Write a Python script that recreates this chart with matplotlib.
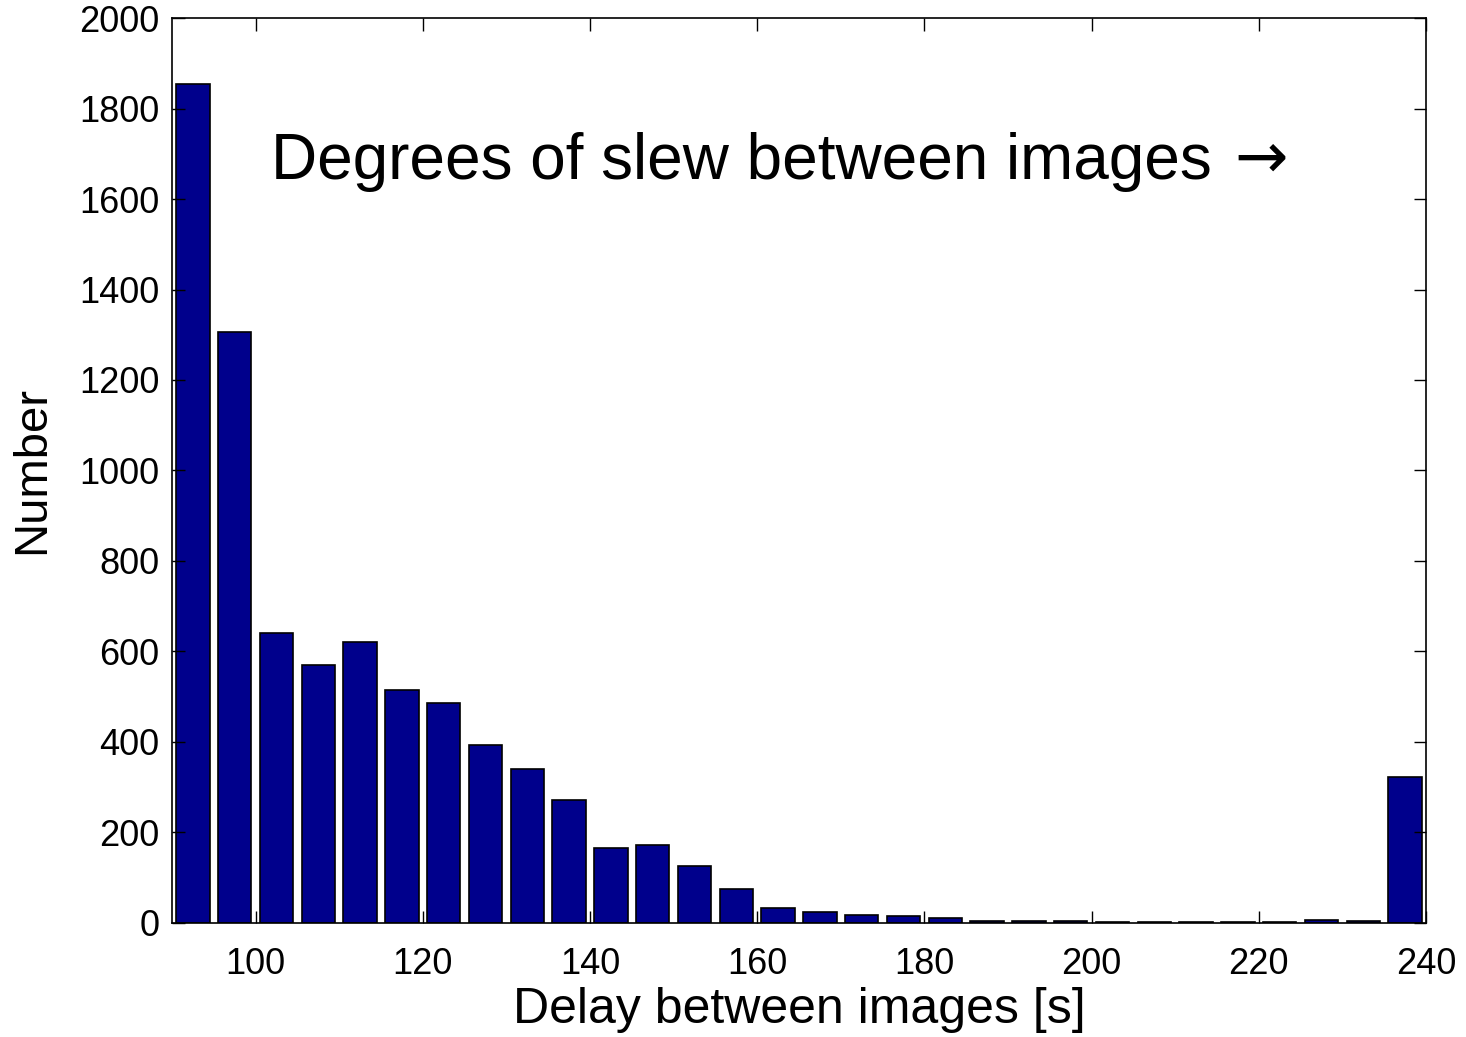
import numpy as np
import matplotlib.pyplot as plt

# bin centres of the delay histogram [s] and the counts
centres = [92.5 + 5 * i for i in range(30)]
counts = [1854, 1306, 641, 570, 621, 515, 486, 393, 340, 272,
          166, 172, 126, 75, 34, 24, 18, 15, 12, 4,
          4, 4, 2, 2, 2, 2, 2, 7, 4, 323]
xticks = [100, 120, 140, 160, 180, 200, 220, 240]
yticks = list(range(0, 2001, 200))

plt.rcParams['font.family'] = ['Liberation Sans', 'DejaVu Sans']

fig = plt.figure(figsize=(14.66, 10.37), dpi=100)
ax = fig.add_axes([0.1173, 0.110, 0.8554, 0.8726])

ax.bar(centres, counts, width=4, color='#00008C', edgecolor='black', linewidth=1.2)

ax.set_xlim(90, 240)
ax.set_ylim(0, 2000)
ax.set_xticks(xticks)
ax.set_yticks(yticks)
ax.tick_params(direction='in', length=9, width=1, top=True, right=True,
               labelsize=26)
ax.tick_params(axis='x', pad=17)
ax.tick_params(axis='y', pad=9)
for s in ax.spines.values():
    s.set_linewidth(1.2)

ax.set_xlabel('Delay between images [s]', fontsize=36, labelpad=4)
ax.set_ylabel('Number', fontsize=34, labelpad=18)

fig.text(0.185, 0.827, 'Degrees of slew between images', fontsize=46)
fig.text(0.842, 0.829, '\u2192', fontsize=46, family='DejaVu Sans')

fig.savefig('out.png', dpi=100)
